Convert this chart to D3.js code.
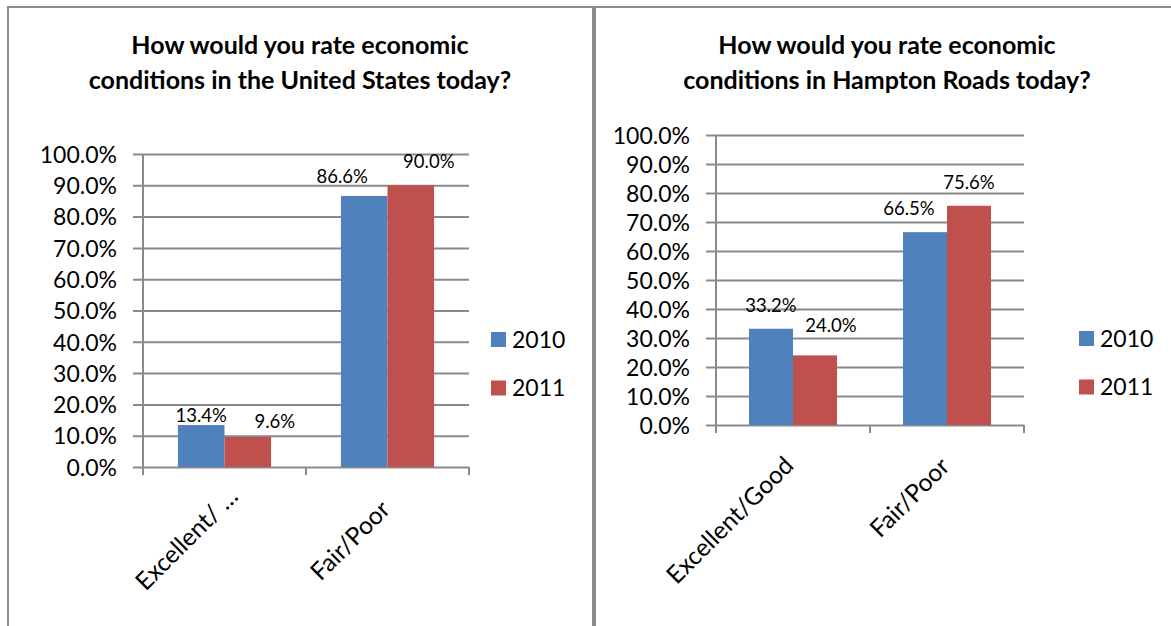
<!DOCTYPE html>
<html>
<head>
<meta charset="utf-8">
<script src="https://cdn.jsdelivr.net/npm/d3@7/dist/d3.min.js"></script>
<style>
  html, body { margin: 0; padding: 0; background: #fff; }
  svg { display: block; }
  text { font-family: Lato, "Open Sans", sans-serif; fill: #000; }
</style>
</head>
<body>
<svg id="chart" width="1171" height="626"></svg>
<script>
// ---------- DATA ----------
const series = ["2010", "2011"];
const usCategories = ["Excellent/ \u2026", "Fair/Poor"];
const us2010 = [0.134, 0.866];
const us2011 = [0.096, 0.900];
const hrCategories = ["Excellent/Good", "Fair/Poor"];
const hr2010 = [0.332, 0.665];
const hr2011 = [0.240, 0.756];
const usTitle = ["How would you rate economic", "conditions in the United States today?"];
const hrTitle = ["How would you rate economic", "conditions in Hampton Roads today?"];
const yTicks = [0, 0.1, 0.2, 0.3, 0.4, 0.5, 0.6, 0.7, 0.8, 0.9, 1.0];

// ---------- STYLE / LAYOUT ----------
const colors = { "2010": "#4F81BD", "2011": "#C0504D" };
const gridColor = "#8a8a8a";
const frameColor = "#8c8c8c";

const panels = [
  {
    title: usTitle, categories: usCategories, values: [us2010, us2011],
    titleX: 300, titleY: 54,
    plot: { left: 143, right: 469, top: 154, bottom: 467 },
    legendX: 491, legendY: 332,
    nudges: [[[0, 14], [-22, 4]], [[27, 8], [18, 0]]],
    catNudges: [[14, -10], [3, 3]]
  },
  {
    title: hrTitle, categories: hrCategories, values: [hr2010, hr2011],
    titleX: 887, titleY: 54,
    plot: { left: 716, right: 1024, top: 135, bottom: 425 },
    legendX: 1079, legendY: 331,
    nudges: [[[0, 0], [-16, 0]], [[16, -6], [0, 0]]],
    catNudges: [[1, 1], [3, 2]]
  }
];

const svg = d3.select("#chart");

// frames
svg.append("line").attr("x1", 7).attr("x2", 1171).attr("y1", 7).attr("y2", 7)
  .attr("stroke", frameColor).attr("stroke-width", 2);
svg.append("line").attr("x1", 8).attr("x2", 8).attr("y1", 6).attr("y2", 626)
  .attr("stroke", frameColor).attr("stroke-width", 2);
svg.append("line").attr("x1", 594).attr("x2", 594).attr("y1", 6).attr("y2", 626)
  .attr("stroke", frameColor).attr("stroke-width", 4);

panels.forEach(p => {
  const g = svg.append("g");
  const { left, right, top, bottom } = p.plot;

  // title
  const t = g.append("text").attr("text-anchor", "middle")
    .attr("font-weight", "bold").attr("font-size", 25);
  p.title.forEach((line, i) => {
    t.append("tspan").attr("x", p.titleX).attr("y", p.titleY + i * 35).text(line);
  });

  const y = d3.scaleLinear().domain([0, 1]).range([bottom, top]);
  const x0 = d3.scaleBand().domain(p.categories).range([left, right]).padding(0);
  const x1 = d3.scaleBand().domain(series).range([0, x0.bandwidth()])
    .paddingInner(0).paddingOuter(0.75);

  // gridlines + y ticks
  const yAxis = d3.axisLeft(y).tickValues(yTicks).tickFormat(d3.format(".1%"))
    .tickSize(-(right - left + 10));
  const ya = g.append("g").attr("transform", `translate(${left - 10},0)`).call(yAxis);
  ya.select(".domain").remove();
  ya.selectAll(".tick line").attr("stroke", gridColor).attr("stroke-width", 2);
  ya.selectAll(".tick text").attr("font-size", 23).attr("fill", "#000")
    .attr("font-family", "Lato, sans-serif").attr("dy", "0.36em")
    .attr("x", -16);

  // vertical axis line
  g.append("line").attr("x1", left).attr("x2", left).attr("y1", top).attr("y2", bottom + 8)
    .attr("stroke", gridColor).attr("stroke-width", 2);
  // category ticks
  const catEdges = p.categories.map(c => x0(c)).concat([right]);
  catEdges.forEach(cx => {
    g.append("line").attr("x1", cx).attr("x2", cx).attr("y1", bottom).attr("y2", bottom + 8)
      .attr("stroke", gridColor).attr("stroke-width", 2);
  });

  // bars
  series.forEach((s, si) => {
    p.categories.forEach((c, ci) => {
      const v = p.values[si][ci];
      const bx = x0(c) + x1(s);
      g.append("rect").attr("x", bx).attr("y", y(v))
        .attr("width", x1.bandwidth()).attr("height", y(0) - y(v))
        .attr("fill", colors[s]);
      const n = p.nudges[si][ci];
      g.append("text").attr("text-anchor", "middle").attr("font-size", 18.5)
        .attr("x", bx + x1.bandwidth() / 2 + n[0])
        .attr("y", y(v) - 17 + n[1])
        .text(d3.format(".1%")(v));
    });
  });

  // category labels rotated
  p.categories.forEach((c, ci) => {
    const cx = x0(c) + x0.bandwidth() / 2 + 1 + p.catNudges[ci][0];
    const cy = bottom + 41 + p.catNudges[ci][1];
    g.append("text").attr("text-anchor", "end").attr("font-size", 24.5)
      .attr("transform", `translate(${cx},${cy}) rotate(-45)`)
      .text(c);
  });

  // legend
  series.forEach((s, si) => {
    const ly = p.legendY + si * 48.5;
    g.append("rect").attr("x", p.legendX).attr("y", ly).attr("width", 15).attr("height", 15)
      .attr("fill", colors[s]);
    g.append("text").attr("x", p.legendX + 21).attr("y", ly + 15.5)
      .attr("font-size", 23).text(s);
  });
});
</script>
</body>
</html>
